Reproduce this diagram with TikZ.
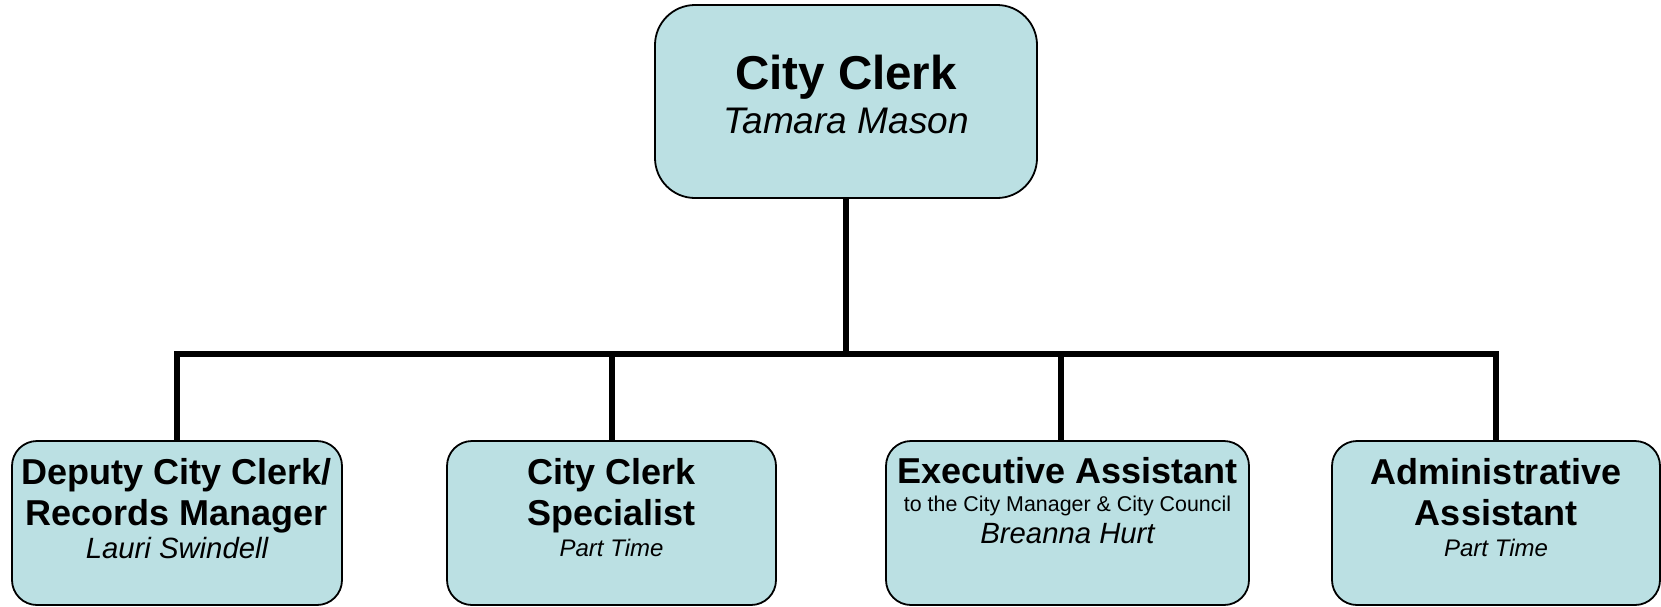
\documentclass[tikz,border=0pt]{standalone}
\usepackage{fontspec}
\setmainfont{Liberation Sans}
\definecolor{boxfill}{RGB}{187,224,227}
\begin{document}
\begin{tikzpicture}[x=1pt,y=-1pt,
  bigbox/.style={draw=black, line width=1.8pt, fill=boxfill, rounded corners=40pt, minimum width=382pt, minimum height=193pt, inner sep=0pt},
  smallbox/.style={draw=black, line width=1.8pt, fill=boxfill, rounded corners=25pt, minimum height=164pt, inner sep=0pt},
  conn/.style={draw=black, line width=6pt},
  txt/.style={anchor=base, inner sep=0pt},
  toptitle/.style={txt, font=\fontsize{47.5}{52}\selectfont\bfseries},
  topname/.style={txt, font=\fontsize{37}{40}\selectfont\itshape},
  btitle/.style={txt, font=\fontsize{36}{40}\selectfont\bfseries},
  bname/.style={txt, font=\fontsize{29.3}{32}\selectfont\itshape},
  bpart/.style={txt, font=\fontsize{24}{26}\selectfont\itshape},
  bsub/.style={txt, font=\fontsize{21.4}{24}\selectfont}]
\useasboundingbox (0,0) rectangle (1661,606);
\coordinate (bar) at (0,354);
% boxes
\node[bigbox] (top) at (846,101.5) {};
\node[smallbox, minimum width=330pt] (b1) at (177,523) {};
\node[smallbox, minimum width=329pt] (b2) at (611.5,523) {};
\node[smallbox, minimum width=363pt] (b3) at (1067.5,523) {};
\node[smallbox, minimum width=328pt] (b4) at (1496,523) {};
% connectors
\draw[conn] (top.south) -- (top.south |- bar);
\draw[conn] (b1.north) -- (b1.north |- bar) -- (b4.north |- bar) -- (b4.north);
\draw[conn] (b2.north) -- (b2.north |- bar);
\draw[conn] ([xshift=-6.5pt]b3.north) -- ([xshift=-6.5pt]b3.north |- bar);
% texts
\node[toptitle] (t0a) at (846,89) {City Clerk};
\node[topname] (t0b) at (846,133) {Tamara Mason};
\node[btitle] (t1a) at (177,484) {Deputy City Clerk/};
\node[btitle] (t1b) at (177,525) {Records Manager};
\node[bname] (t1c) at (177,558) {Lauri Swindell};
\node[btitle] (t2a) at (611.5,484) {City Clerk};
\node[btitle] (t2b) at (611.5,525) {Specialist};
\node[bpart] (t2c) at (611.5,556) {Part Time};
\node[btitle] (t3a) at (1067.5,483) {Executive Assistant};
\node[bsub] (t3b) at (1067.5,511) {to the City Manager \& City Council};
\node[bname] (t3c) at (1067.5,543) {Breanna Hurt};
\node[btitle] (t4a) at (1496,484) {Administrative};
\node[btitle] (t4b) at (1496,525) {Assistant};
\node[bpart] (t4c) at (1496,556) {Part Time};
\end{tikzpicture}
\end{document}
